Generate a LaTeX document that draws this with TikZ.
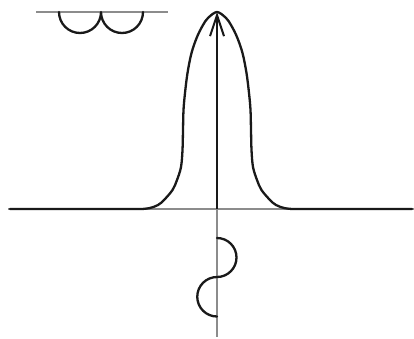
\documentclass[tikz,border=0pt]{standalone}
\usetikzlibrary{arrows.meta}
\tikzset{
  axisline/.style={draw=black!45, line width=1.3pt},
  curveline/.style={draw=black!90, line width=2.3pt, line cap=round, line join=round},
}
\begin{document}
\begin{tikzpicture}[x=1pt,y=-1pt]
\useasboundingbox (0,0) rectangle (414,338);
% named coordinates
\coordinate (axL) at (8,209);
\coordinate (axR) at (414,209);
\coordinate (O) at (217,209);
\coordinate (peak) at (217,12);
\coordinate (vBot) at (217,337);
\coordinate (tL) at (36,12);
\coordinate (tR) at (168,12);
% gray axes
\draw[axisline] (axL) -- (axR);
\draw[axisline] (O) -- (vBot);
\draw[axisline] (tL) -- (tR);
% bell curve
\draw[curveline] (10,209) -- (142,209)
  plot[smooth, tension=0.55] coordinates {
   (142,209) (150,208) (158,205) (164,200) (172.5,190) (177,180) (181,167)
   (182.5,150) (183,130) (183.5,110) (185,93) (187.5,73) (191.5,53) (197,37)
   (203,25) (208,18) (217,12) (226,18) (231,25) (237,37) (242.5,53) (246.5,73)
   (249,93) (250.5,110) (251,130) (251.5,150) (253,167) (257,180) (261.5,190)
   (270,200) (276,205) (284,208) (292,209)}
  -- (412,209);
% arrow
\draw[curveline, line cap=butt, -{Straight Barb[length=21pt,width=14pt,line width=2pt]}] (O) -- (peak);
% top-left semicircles
\draw[curveline] (59,12) arc[start angle=180, end angle=0, radius=21]
                 arc[start angle=180, end angle=0, radius=21];
% bottom S curve
\draw[curveline] (217,238) arc[start angle=-90, end angle=90, radius=19.5]
                 arc[start angle=270, end angle=90, radius=19.75];
\end{tikzpicture}
\end{document}
